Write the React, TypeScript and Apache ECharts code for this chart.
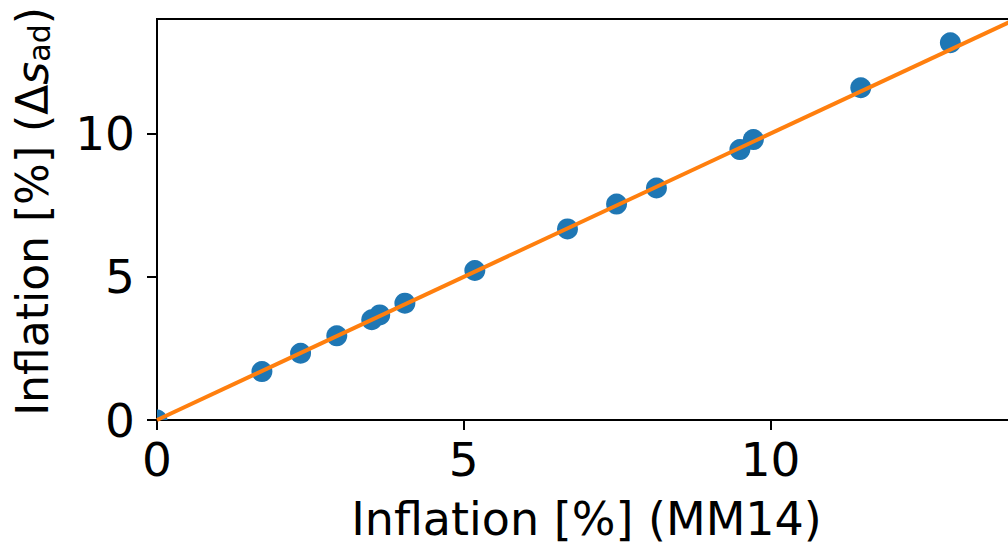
import React, { useEffect, useRef } from "react";
import * as echarts from "echarts";

const mm14X = [0, 1.71, 2.34, 2.93, 3.5, 3.63, 4.04, 5.18, 6.69, 7.49, 8.14, 9.5, 9.72, 11.47, 12.93];
const sadY = [0, 1.69, 2.33, 2.94, 3.5, 3.67, 4.08, 5.22, 6.67, 7.54, 8.1, 9.44, 9.79, 11.6, 13.17];
const lineX = [0, 14];
const lineY = [0, 14];
const tickValues = [0, 5, 10];
const xName = "Inflation [%] (MM14)";

const FONT = "DejaVu Sans";

export default function App() {
  const ref = useRef<HTMLDivElement>(null);
  useEffect(() => {
    if (!ref.current) return;
    const chart = echarts.init(ref.current, undefined, { renderer: "svg" });
    const axisCommon = {
      type: "value" as const,
      min: 0,
      max: 14,
      interval: 5,
      splitLine: { show: false },
      axisLine: { show: true, onZero: false, lineStyle: { color: "#000", width: 2 } },
      axisTick: { show: true, length: 10, customValues: tickValues, lineStyle: { color: "#000", width: 2 } },
    };
    chart.setOption({
      animation: false,
      grid: {
        left: 157,
        top: 19,
        right: -8,
        bottom: 130,
        outerBoundsMode: "none",
        containLabel: false,
        show: true,
        borderColor: "#000",
        borderWidth: 2,
        backgroundColor: "transparent",
      },
      xAxis: {
        ...axisCommon,
        axisLabel: { customValues: tickValues, margin: 16, fontSize: 47, color: "#000", fontFamily: FONT },
        name: xName,
        nameLocation: "middle",
        nameGap: 76,
        nameTextStyle: { fontSize: 46, color: "#000", fontFamily: FONT },
      },
      yAxis: {
        ...axisCommon,
        axisLabel: { customValues: tickValues, margin: 22, fontSize: 47, color: "#000", fontFamily: FONT },
        name: "{n|Inflation [%] (Δ}{i|s}{sub|ad}{n|)}",
        nameLocation: "middle",
        nameRotate: 90,
        nameGap: 103,
        nameTextStyle: {
          fontSize: 44,
          color: "#000",
          fontFamily: FONT,
          padding: [0, 0, 0, 16],
          rich: {
            n: { fontSize: 44, color: "#000", fontFamily: FONT },
            i: { fontSize: 44, color: "#000", fontFamily: FONT, fontStyle: "italic" },
            sub: { fontSize: 30, color: "#000", fontFamily: FONT, verticalAlign: "bottom", padding: [12, 0, 0, 0] },
          },
        },
      },
      series: [
        {
          type: "custom",
          data: mm14X.map((x, i) => [x, sadY[i]]),
          clip: true,
          z: 2,
          renderItem: (params: any, api: any) => {
            const p = api.coord([api.value(0), api.value(1)]);
            return {
              type: "circle",
              shape: { cx: p[0], cy: p[1], r: 10.5 },
              style: { fill: "#1f77b4" },
            };
          },
        },
        {
          type: "line",
          data: lineX.map((x, i) => [x, lineY[i]]),
          showSymbol: false,
          symbol: "none",
          lineStyle: { color: "#ff7f0e", width: 4 },
          clip: true,
          z: 3,
        },
      ],
    });
    return () => chart.dispose();
  }, []);
  return (
    <div
      ref={ref}
      style={{ position: "fixed", left: 0, top: 0, width: 1008, height: 550, background: "#fff" }}
    />
  );
}
